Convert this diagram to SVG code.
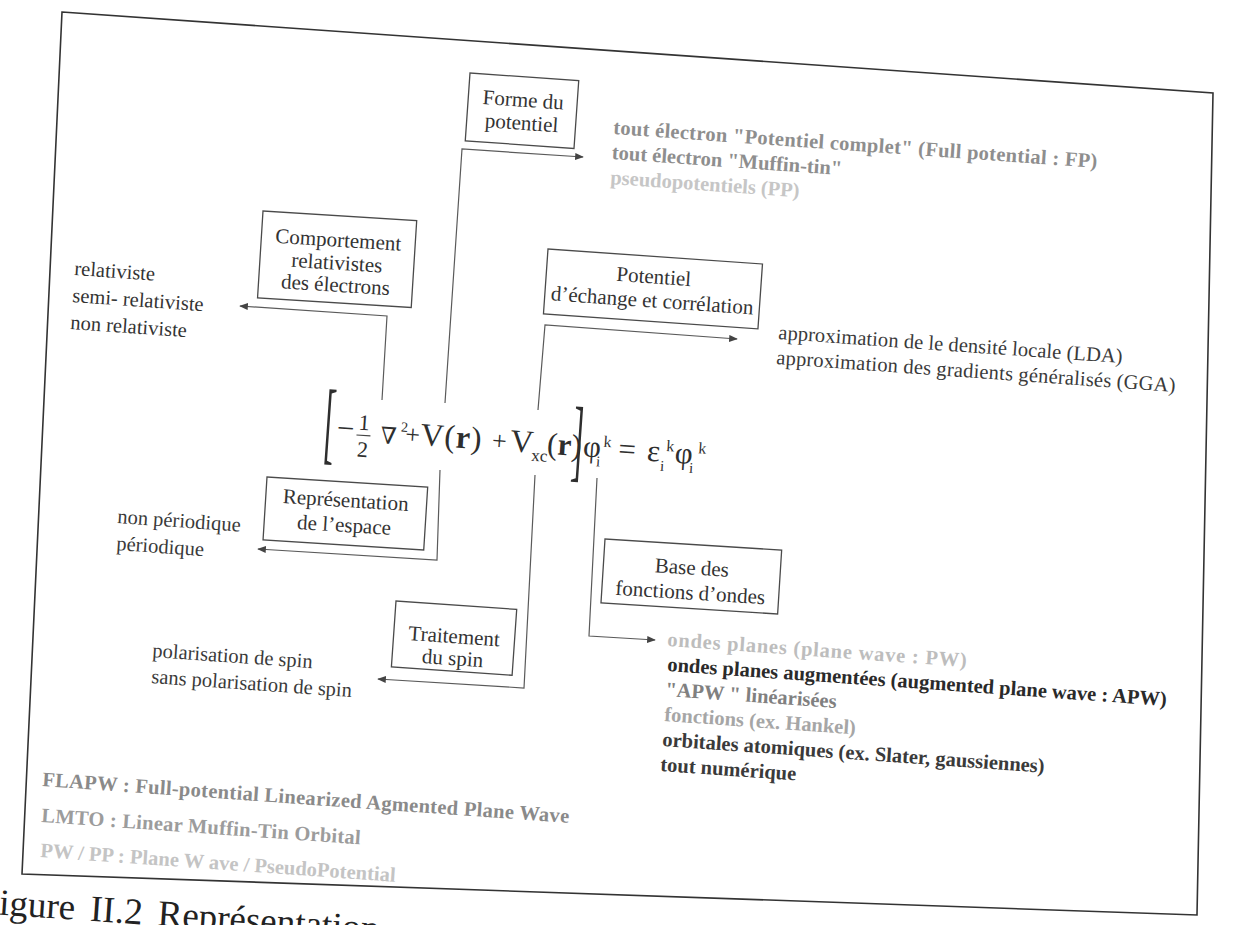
<svg xmlns="http://www.w3.org/2000/svg" width="1248" height="925" viewBox="0 0 1248 925">
<defs>
<style>
.box{fill:none;stroke:#4a4a4a;stroke-width:1.3}
.lbl{font-family:"Liberation Serif","Times New Roman",serif;font-size:21px;fill:#333;text-anchor:middle}
.t{font-family:"Liberation Serif","Times New Roman",serif;font-size:20.5px}
.b{font-weight:bold}
.eq{font-family:"Liberation Serif","DejaVu Serif",serif;fill:#2e2e2e}
.conn{fill:none;stroke:#5a5a5a;stroke-width:1.2}
.frame{fill:none;stroke:#333;stroke-width:1.6}
</style>
<marker id="ah" viewBox="0 0 10 8" refX="9" refY="4" markerWidth="9" markerHeight="7" markerUnits="userSpaceOnUse" orient="auto"><path d="M0,0 L10,4 L0,8 Z" fill="#444"/></marker>
</defs>
<rect width="1248" height="925" fill="#fff"/>
<polygon class="frame" points="62,12 1213,93 1197,915 22,874"/>

<g id="connectors">
<polyline class="conn" points="445,403 462,149 583,157" marker-end="url(#ah)"/>
<polyline class="conn" points="382,400 387,316 240,306" marker-end="url(#ah)"/>
<polyline class="conn" points="538,410 545,325 737,339" marker-end="url(#ah)"/>
<polyline class="conn" points="440,470 437,560 258,549" marker-end="url(#ah)"/>
<polyline class="conn" points="535,475 524,688 378,679" marker-end="url(#ah)"/>
<polyline class="conn" points="597,478 589,636 655,640" marker-end="url(#ah)"/>
</g>

<g id="node-forme" transform="translate(470,73) rotate(4)">
<rect class="box" width="109" height="68"/>
<text class="lbl" x="55" y="30">Forme du</text>
<text class="lbl" x="55" y="53">potentiel</text>
</g>
<g id="node-comportement" transform="translate(263,211) rotate(3.6)">
<rect class="box" width="154" height="87"/>
<text class="lbl" x="77" y="31">Comportement</text>
<text class="lbl" x="77" y="54">relativistes</text>
<text class="lbl" x="77" y="76">des électrons</text>
</g>
<g id="node-xc" transform="translate(548,249) rotate(4)">
<rect class="box" width="215" height="65"/>
<text class="lbl" x="107.5" y="27">Potentiel</text>
<text class="lbl" x="107.5" y="51">d’échange et corrélation</text>
</g>
<g id="node-espace" transform="translate(267,477) rotate(3.6)">
<rect class="box" width="161" height="63"/>
<text class="lbl" x="80" y="25">Représentation</text>
<text class="lbl" x="80" y="50">de l’espace</text>
</g>
<g id="node-spin" transform="translate(396,601) rotate(4)">
<rect class="box" width="121" height="66"/>
<text class="lbl" x="60.5" y="38">Traitement</text>
<text class="lbl" x="60.5" y="60">du spin</text>
</g>
<g id="node-base" transform="translate(605,539) rotate(3.6)">
<rect class="box" width="177" height="64"/>
<text class="lbl" x="88.5" y="30">Base des</text>
<text class="lbl" x="88.5" y="55">fonctions d’ondes</text>
</g>

<g id="equation" transform="translate(335,441) rotate(4)">
<text class="eq" font-size="32" transform="translate(-11.5,0) scale(1,2.85)" y="4.2">[</text>
<text class="eq" font-size="31" x="1" y="-3">−</text>
<text class="eq" font-size="22" x="28" y="-13" text-anchor="middle">1</text>
<line x1="21" y1="-7.5" x2="35" y2="-7.5" stroke="#444" stroke-width="1.2"/>
<text class="eq" font-size="22" x="28" y="14" text-anchor="middle">2</text>
<text class="eq" font-size="23" x="45" y="-1">∇</text>
<text class="eq" font-size="14" x="65" y="-14">2</text>
<text class="eq" font-size="26" x="77" y="-3" text-anchor="middle">+</text>
<text class="eq" font-size="32" x="85" y="-2" textLength="61" lengthAdjust="spacing">V(<tspan font-weight="bold">r</tspan>)</text>
<text class="eq" font-size="26" x="164" y="-3" text-anchor="middle">+</text>
<text class="eq" font-size="32" x="175" y="-2">V</text>
<text class="eq" font-size="17" x="197" y="6">xc</text>
<text class="eq" font-size="31" x="212" y="-2">(<tspan font-weight="bold">r</tspan>)</text>
<text class="eq" font-size="32" transform="translate(237,0) scale(1,2.85)" y="4.2">]</text>
<text class="eq" font-size="31" x="248" y="-2">φ</text>
<text class="eq" font-size="15" x="262" y="7">i</text>
<text class="eq" font-size="16" x="268" y="-13">k</text>
<text class="eq" font-size="31" x="292" y="-2" text-anchor="middle">=</text>
<text class="eq" font-size="31" x="312" y="-2">ε</text>
<text class="eq" font-size="15" x="326" y="7">i</text>
<text class="eq" font-size="16" x="331" y="-13">k</text>
<text class="eq" font-size="31" x="340" y="-2">φ</text>
<text class="eq" font-size="15" x="355" y="7">i</text>
<text class="eq" font-size="16" x="363" y="-13">k</text>
</g>

<g id="list-forme" class="t b">
<text transform="translate(613,134) rotate(4)" fill="#8e8e8e" textLength="485" lengthAdjust="spacing">tout électron "Potentiel complet" (Full potential : FP)</text>
<text transform="translate(611.5,159) rotate(4)" fill="#8e8e8e">tout électron "Muffin-tin"</text>
<text transform="translate(610,184) rotate(4)" fill="#c6c6c6">pseudopotentiels (PP)</text>
</g>
<g id="list-relativiste" class="t" fill="#333">
<text transform="translate(74,275) rotate(4)">relativiste</text>
<text transform="translate(72,302) rotate(4)">semi- relativiste</text>
<text transform="translate(70,329) rotate(4)">non relativiste</text>
</g>
<g id="list-xc" class="t" fill="#3a3a3a">
<text transform="translate(778,339) rotate(4)" textLength="345" lengthAdjust="spacing">approximation de le densité locale (LDA)</text>
<text transform="translate(776,364) rotate(4)" textLength="400" lengthAdjust="spacing">approximation des gradients généralisés (GGA)</text>
</g>
<g id="list-espace" class="t" fill="#3a3a3a">
<text transform="translate(117,523) rotate(4)">non périodique</text>
<text transform="translate(116,550) rotate(4)">périodique</text>
</g>
<g id="list-spin" class="t" fill="#3a3a3a">
<text transform="translate(152,657) rotate(4)">polarisation de spin</text>
<text transform="translate(151,683) rotate(4)">sans polarisation de spin</text>
</g>
<g id="list-base" class="t b">
<text transform="translate(667,646) rotate(4)" fill="#bdbdbd" textLength="300" lengthAdjust="spacing">ondes planes (plane wave : PW)</text>
<text transform="translate(667,671) rotate(4)" fill="#2a2a2a">ondes planes augmentées (augmented plane wave : APW)</text>
<text transform="translate(665,696) rotate(4)" fill="#808080">"APW " linéarisées</text>
<text transform="translate(664,721) rotate(4)" fill="#a6a6a6">fonctions (ex. Hankel)</text>
<text transform="translate(662,746) rotate(4)" fill="#3a3a3a">orbitales atomiques (ex. Slater, gaussiennes)</text>
<text transform="translate(660,771) rotate(4)" fill="#3a3a3a">tout numérique</text>
</g>
<g id="legend" class="t b">
<text transform="translate(42,786) rotate(4)" fill="#8a8a8a" textLength="528" lengthAdjust="spacing">FLAPW : Full-potential Linearized Agmented Plane Wave</text>
<text transform="translate(41,822) rotate(4)" fill="#9c9c9c" textLength="320" lengthAdjust="spacing">LMTO : Linear Muffin-Tin Orbital</text>
<text transform="translate(40,857) rotate(4)" fill="#c4c4c4" textLength="356" lengthAdjust="spacing">PW / PP : Plane W ave / PseudoPotential</text>
</g>
<text id="caption" transform="translate(-22,913) rotate(4)" font-family="Liberation Serif, Times New Roman, serif" font-size="37" fill="#222" word-spacing="6">Figure II.2 Représentation</text>
</svg>
